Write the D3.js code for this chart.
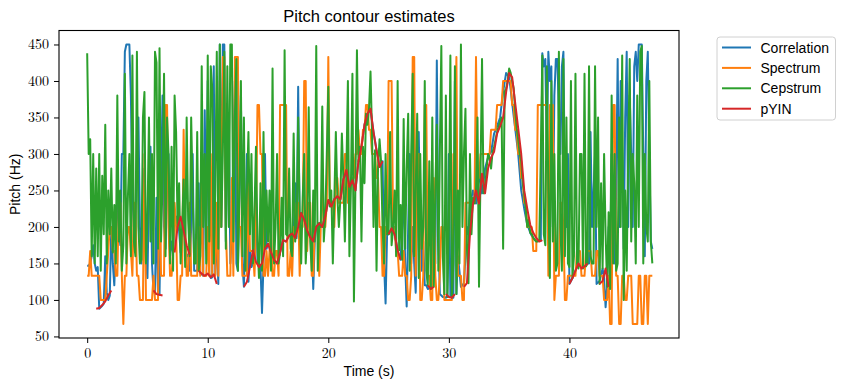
<!DOCTYPE html>
<html>
<head>
<meta charset="utf-8">
<script src="https://cdn.jsdelivr.net/npm/d3@7"></script>
<style>
  body { margin: 0; background: #fff; }
  svg { display: block; }
</style>
</head>
<body>
<svg id="chart"></svg>
<script>
// Pitch contour estimates
// one row per second: 8 frames (0.125 s) for the three estimators, 4 frames (0.25 s) for pYIN

const hop = 0.125;
const pyinHop = 0.25;

// Correlation (blue)
const correlation = [
  147, 147, 150, 160, 175, 150, 140, 145,
  88, 90, 92, 95, 160, 110, 100, 106,
  200, 150, 120, 180, 250, 200, 175, 300,
  300, 440, 450, 450, 450, 380, 240, 200,
  180, 300, 350, 200, 150, 250, 280, 150,
  130, 250, 310, 150, 112, 108, 240, 107,
  107, 250, 380, 200, 170, 250, 300, 160,
  180, 165, 215, 214, 200, 195, 165, 175,
  250, 175, 160, 162, 140, 200, 300, 140,
  140, 140, 260, 136, 135, 133, 360, 200,
  400, 136, 130, 131, 420, 135, 200, 122,
  450, 200, 450, 450, 180, 300, 350, 150,
  200, 300, 400, 150, 140, 250, 380, 150,
  118, 200, 300, 125, 168, 145, 150, 168,
  250, 152, 145, 145, 82, 150, 300, 170,
  177, 172, 165, 160, 155, 152, 150, 158,
  165, 174, 182, 181, 180, 185, 188, 190,
  191, 188, 260, 185, 392, 200, 219, 215,
  210, 203, 195, 190, 186, 183, 115, 180,
  200, 203, 205, 202, 200, 208, 215, 226,
  237, 232, 228, 233, 238, 240, 242, 240,
  238, 250, 265, 270, 278, 265, 255, 258,
  264, 257, 250, 270, 290, 300, 310, 325,
  340, 348, 355, 358, 362, 345, 330, 318,
  305, 295, 282, 285, 290, 150, 95, 190,
  190, 194, 198, 194, 190, 180, 168, 160,
  155, 200, 250, 150, 91, 200, 300, 150,
  200, 150, 110, 250, 330, 200, 140, 180,
  120, 120, 115, 116, 118, 119, 250, 150,
  428, 200, 108, 106, 104, 104, 103, 105,
  300, 104, 110, 103, 400, 108, 160, 140,
  118, 120, 123, 160, 200, 190, 232, 240,
  250, 242, 232, 250, 273, 260, 246, 262,
  280, 288, 295, 300, 303, 315, 328, 333,
  338, 344, 350, 368, 385, 398, 411, 408,
  405, 388, 370, 352, 335, 318, 300, 275,
  250, 238, 225, 214, 203, 198, 192, 188,
  185, 183, 180, 181, 182, 181, 438, 420,
  430, 300, 440, 400, 420, 200, 380, 430,
  430, 350, 300, 420, 440, 250, 200, 300,
  122, 126, 130, 135, 140, 145, 150, 147,
  143, 145, 146, 148, 150, 150, 330, 200,
  250, 300, 122, 124, 126, 135, 143, 130,
  90, 118, 200, 150, 300, 200, 150, 250,
  430, 200, 400, 300, 170, 350, 440, 200,
  380, 300, 200, 420, 440, 400, 450, 450,
  450, 300, 160, 400, 440, 300, 180, 170
];

// Spectrum (orange), quantised peaks
const spectrum = [
  133, 133, 167, 133, 133, 133, 133, 133,
  133, 100, 100, 100, 100, 133, 167, 200,
  200, 167, 167, 133, 133, 233, 233, 133,
  67, 133, 133, 200, 200, 167, 133, 233,
  233, 133, 133, 100, 100, 100, 300, 100,
  100, 100, 100, 100, 133, 100, 100, 100,
  300, 133, 133, 133, 367, 367, 200, 133,
  133, 167, 233, 200, 100, 100, 133, 133,
  333, 200, 133, 133, 233, 133, 133, 133,
  133, 133, 200, 133, 267, 133, 133, 133,
  200, 133, 300, 133, 133, 133, 233, 133,
  400, 200, 433, 433, 200, 133, 133, 133,
  267, 133, 433, 433, 433, 200, 200, 133,
  133, 133, 133, 267, 167, 167, 167, 133,
  200, 367, 367, 300, 300, 133, 133, 167,
  133, 167, 200, 133, 133, 167, 167, 133,
  367, 367, 367, 367, 367, 133, 133, 167,
  133, 200, 200, 233, 233, 133, 200, 200,
  400, 400, 167, 233, 233, 133, 133, 200,
  200, 200, 133, 200, 267, 200, 200, 233,
  433, 233, 233, 233, 200, 267, 267, 233,
  233, 233, 233, 300, 300, 233, 233, 267,
  267, 267, 300, 300, 333, 300, 300, 333,
  333, 367, 367, 333, 333, 300, 300, 300,
  267, 267, 200, 200, 133, 133, 200, 200,
  400, 400, 400, 200, 200, 167, 167, 133,
  133, 133, 167, 133, 133, 100, 100, 133,
  433, 433, 133, 300, 300, 100, 100, 133,
  367, 367, 133, 133, 100, 100, 267, 133,
  100, 100, 133, 200, 200, 100, 100, 100,
  100, 100, 100, 300, 300, 433, 133, 133,
  133, 100, 100, 233, 233, 233, 233, 233,
  233, 233, 433, 267, 267, 300, 300, 300,
  300, 300, 300, 300, 333, 333, 333, 333,
  367, 367, 367, 367, 400, 400, 400, 400,
  400, 400, 367, 367, 333, 333, 300, 300,
  267, 267, 233, 233, 200, 200, 200, 200,
  167, 167, 167, 367, 367, 367, 367, 367,
  367, 367, 133, 367, 367, 367, 100, 133,
  133, 133, 233, 233, 200, 100, 100, 133,
  133, 133, 133, 133, 133, 167, 167, 167,
  133, 133, 133, 167, 167, 167, 167, 133,
  133, 133, 167, 167, 133, 133, 133, 100,
  100, 100, 133, 67, 67, 367, 367, 133,
  133, 67, 67, 133, 133, 100, 100, 133,
  133, 133, 67, 67, 67, 67, 133, 133,
  67, 67, 133, 133, 67, 133, 133, 133
];

// Cepstrum (green)
const cepstrum = [
  438, 300, 320, 160, 300, 150, 280, 160,
  300, 140, 270, 190, 340, 150, 250, 190,
  280, 165, 230, 150, 380, 180, 250, 140,
  175, 410, 150, 240, 300, 160, 435, 180,
  160, 440, 200, 150, 155, 350, 385, 150,
  210, 350, 180, 300, 150, 440, 425, 170,
  445, 180, 260, 410, 160, 350, 300, 150,
  310, 140, 380, 330, 200, 260, 150, 200,
  265, 145, 350, 210, 160, 350, 250, 150,
  150, 330, 140, 160, 420, 200, 300, 150,
  435, 180, 420, 390, 150, 250, 440, 170,
  450, 200, 300, 440, 170, 420, 200, 450,
  450, 180, 350, 430, 140, 240, 400, 160,
  350, 140, 250, 330, 190, 300, 150, 220,
  310, 180, 130, 260, 140, 330, 170, 250,
  180, 250, 140, 417, 150, 200, 300, 150,
  165, 240, 160, 442, 190, 188, 280, 170,
  160, 328, 180, 200, 350, 219, 150, 240,
  300, 150, 195, 364, 180, 140, 250, 180,
  448, 140, 205, 200, 365, 180, 215, 300,
  392, 228, 250, 150, 238, 330, 242, 200,
  238, 328, 265, 180, 278, 400, 160, 255,
  410, 98, 260, 442, 290, 310, 180, 310,
  260, 355, 340, 362, 413, 330, 200, 305,
  140, 282, 320, 290, 200, 150, 300, 190,
  190, 330, 175, 198, 250, 160, 400, 168,
  230, 155, 348, 170, 280, 355, 140, 300,
  410, 160, 250, 355, 130, 300, 170, 200,
  400, 140, 120, 290, 115, 350, 118, 250,
  340, 140, 300, 448, 160, 108, 380, 104,
  200, 435, 103, 150, 420, 108, 250, 150,
  450, 200, 300, 362, 170, 123, 300, 190,
  240, 232, 250, 350, 118, 273, 430, 246,
  250, 280, 300, 295, 280, 303, 310, 320,
  330, 338, 345, 350, 170, 385, 390, 400,
  417, 411, 400, 390, 360, 335, 320, 300,
  290, 260, 245, 225, 200, 210, 192, 190,
  185, 182, 180, 180, 182, 300, 435, 190,
  175, 420, 250, 130, 400, 180, 300, 140,
  150, 440, 200, 140, 430, 160, 350, 150,
  145, 400, 130, 160, 410, 150, 143, 300,
  300, 143, 410, 146, 150, 420, 160, 150,
  150, 420, 200, 350, 122, 260, 143, 300,
  190, 118, 220, 115, 380, 150, 300, 140,
  150, 350, 200, 435, 100, 250, 140, 300,
  430, 180, 300, 260, 150, 380, 200, 440,
  448, 150, 300, 200, 180, 400, 180, 150
];

// pYIN (red), null = unvoiced
const pyin = [
  null, null, null, 88,
  89, 93, 98, 106,
  113, null, null, null,
  null, null, null, null,
  null, null, null, null,
  null, null, 113, 108,
  107, 106, null, null,
  null, 165, 200, 214,
  195, 175, 162, null,
  null, 140, 136, 133,
  136, 131, 135, 122,
  null, null, null, null,
  null, null, null, null,
  118, 125, 145, 168,
  152, 145, 150, 170,
  177, 165, 155, 150,
  165, 182, 180, 188,
  191, 185, 200, 219,
  210, 195, 186, 180,
  200, 205, 200, 215,
  237, 228, 238, 242,
  238, 265, 278, 255,
  264, 250, 290, 310,
  340, 355, 362, 330,
  305, 282, 290, null,
  190, 198, 190, 168,
  155, null, null, null,
  null, null, null, null,
  null, 120, 115, 118,
  null, null, null, 108,
  104, 103, 108, null,
  null, 118, 123, 190,
  232, 250, 232, 273,
  246, 280, 295, 303,
  328, 338, 350, 385,
  411, 405, 370, 335,
  300, 250, 225, 203,
  192, 185, 180, 182,
  null, null, null, null,
  null, null, null, null,
  122, 130, 140, 150,
  143, 146, 150, null,
  null, null, 122, 126,
  143, 118, null, null,
  null, null, null, null,
  null, null, null, null,
  null, null, null, null
];

const seriesNames = ['Correlation', 'Spectrum', 'Cepstrum', 'pYIN'];
const seriesColors = ['#1f77b4', '#ff7f0e', '#2ca02c', '#d62728'];
const xTicks = [0, 10, 20, 30, 40];
const yTicks = [50, 100, 150, 200, 250, 300, 350, 400, 450];

const width = 844, height = 389;
const margin = { top: 30.5, right: 165, bottom: 51, left: 59 };
const plotW = width - margin.left - margin.right;
const plotH = height - margin.top - margin.bottom;

const frames = correlation.map((_, i) => i * hop);
const pyinFrames = pyin.map((_, i) => i * pyinHop);
const series = [
  { vals: correlation, t: frames },
  { vals: spectrum, t: frames },
  { vals: cepstrum, t: frames },
  { vals: pyin, t: pyinFrames }
];

const svg = d3.select('#chart').attr('width', width).attr('height', height);

// matplotlib style 5% margins
const tExt = [0, 46.75];
const tPad = (tExt[1] - tExt[0]) * 0.05;
const allVals = series.flatMap(s => s.vals).filter(v => v != null);
const yExt = d3.extent(allVals);
const yPad = (yExt[1] - yExt[0]) * 0.05;

const x = d3.scaleLinear().domain([tExt[0] - tPad, tExt[1] + tPad]).range([0, plotW]);
const y = d3.scaleLinear().domain([yExt[0] - yPad, yExt[1] + yPad]).range([plotH, 0]);

const g = svg.append('g').attr('transform', `translate(${margin.left},${margin.top})`);

g.append('clipPath').attr('id', 'clip')
  .append('rect').attr('width', plotW).attr('height', plotH);

const line = d3.line()
  .defined(d => d[1] != null)
  .x(d => x(d[0]))
  .y(d => y(d[1]));

const lines = g.append('g').attr('clip-path', 'url(#clip)');
series.forEach((s, k) => {
  lines.append('path')
    .datum(s.vals.map((v, i) => [s.t[i], v]))
    .attr('d', line)
    .attr('fill', 'none')
    .attr('stroke', seriesColors[k])
    .attr('stroke-width', 2)
    .attr('stroke-linejoin', 'round');
});

// axes
const tickFont = '"Latin Modern Roman", "CMU Serif", "Liberation Serif", serif';
const xAxis = g.append('g').attr('transform', `translate(0,${plotH})`)
  .call(d3.axisBottom(x).tickValues(xTicks).tickSize(5).tickPadding(5).tickFormat(d3.format('d')));
const yAxis = g.append('g')
  .call(d3.axisLeft(y).tickValues(yTicks).tickSize(5).tickPadding(5).tickFormat(d3.format('d')));
[xAxis, yAxis].forEach(a => {
  a.select('.domain').remove();
  a.selectAll('line').attr('stroke', '#000').attr('stroke-width', 1);
  a.selectAll('text').attr('fill', '#000').style('font-family', tickFont).style('font-size', '14px');
});

g.append('rect')
  .attr('width', plotW).attr('height', plotH)
  .attr('fill', 'none').attr('stroke', '#000').attr('stroke-width', 1.1);

const sans = '"Liberation Sans", Arial, sans-serif';

svg.append('text')
  .attr('x', margin.left + plotW / 2).attr('y', 22)
  .attr('text-anchor', 'middle')
  .style('font-family', sans).style('font-size', '16.5px')
  .text('Pitch contour estimates');

svg.append('text')
  .attr('x', margin.left + plotW / 2).attr('y', 376)
  .attr('text-anchor', 'middle')
  .style('font-family', sans).style('font-size', '14px')
  .text('Time (s)');

svg.append('text')
  .attr('transform', `translate(20,${margin.top + plotH / 2}) rotate(-90)`)
  .attr('text-anchor', 'middle')
  .style('font-family', sans).style('font-size', '14px')
  .text('Pitch (Hz)');

// legend
const legend = svg.append('g').attr('transform', 'translate(717,37)');
legend.append('rect')
  .attr('width', 118.5).attr('height', 83)
  .attr('rx', 3)
  .attr('fill', '#fff').attr('fill-opacity', 0.8)
  .attr('stroke', '#d0d0d0').attr('stroke-width', 1);
seriesNames.forEach((name, k) => {
  const row = legend.append('g').attr('transform', `translate(0,${10.5 + k * 20.4})`);
  row.append('line')
    .attr('x1', 5).attr('x2', 34)
    .attr('stroke', seriesColors[k]).attr('stroke-width', 2);
  row.append('text')
    .attr('x', 43.5).attr('y', 5)
    .style('font-family', sans).style('font-size', '14px')
    .text(name);
});
</script>
</body>
</html>
